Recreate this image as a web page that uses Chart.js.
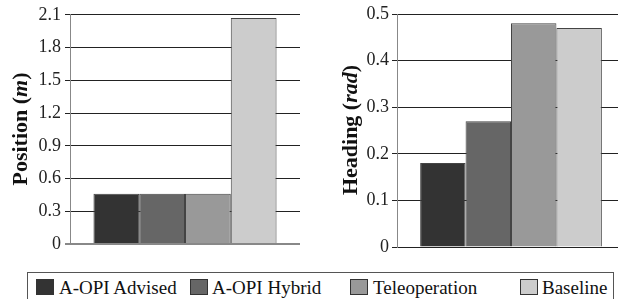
<!DOCTYPE html>
<html lang="en">
<head>
<meta charset="UTF-8" />
<title>Position and heading error</title>
<script src="https://cdn.jsdelivr.net/npm/chart.js"></script>
<style>
  html, body { margin: 0; padding: 0; background: #fff; overflow: hidden; width: 618px; height: 299px; }
  canvas { position: absolute; top: 0; }
  #posChart { left: 0; }
  #headChart { left: 310px; }
  #legendBox { position: absolute; left: 27px; top: 272px; width: 587px; height: 40px; border: 1px solid #555; box-sizing: border-box; }
  .sw { position: absolute; top: 279px; width: 18px; height: 16px; border: 1px solid #333; box-sizing: border-box; }
  .lbl { position: absolute; top: 278px; font: 19px/1 "Liberation Serif", serif; color: #111; white-space: nowrap; }
</style>
</head>
<body>
  <canvas id="posChart" width="310" height="265"></canvas>
  <canvas id="headChart" width="318" height="265"></canvas>
  <div id="legendBox"></div>

<script>
const methods = ['A-OPI Advised', 'A-OPI Hybrid', 'Teleoperation', 'Baseline'];
const positionErr = [0.46, 0.46, 0.46, 2.07];
const headingErr = [0.18, 0.27, 0.48, 0.47];
const positionTicks = [0, 0.3, 0.6, 0.9, 1.2, 1.5, 1.8, 2.1];
const headingTicks = [0, 0.1, 0.2, 0.3, 0.4, 0.5];

const fills = ['#333333', '#666666', '#999999', '#cccccc'];

// rotated axis title with an italic unit
function sideTitle(o) {
  return {
    id: 'sideTitle',
    afterDraw(chart) {
      const ctx = chart.ctx;
      ctx.save();
      ctx.translate(o.x, o.y);
      ctx.rotate(-Math.PI / 2);
      ctx.fillStyle = '#111';
      ctx.textAlign = 'left';
      ctx.textBaseline = 'alphabetic';
      const fonts = o.parts.map(p => (p[1] ? 'italic ' : '') + 'bold 22px "Liberation Serif"');
      const widths = o.parts.map((p, i) => { ctx.font = fonts[i]; return ctx.measureText(p[0]).width; });
      let x = -widths.reduce((a, b) => a + b, 0) / 2;
      o.parts.forEach((p, i) => {
        ctx.font = fonts[i];
        ctx.fillText(p[0], x, 0);
        x += widths[i];
      });
      ctx.restore();
    }
  };
}

function makeChart(id, values, ticks, cfg) {
  return new Chart(document.getElementById(id), {
    type: 'bar',
    data: {
      labels: [''],
      datasets: methods.map((m, i) => ({
        label: m,
        data: [values[i]],
        backgroundColor: fills[i],
        borderColor: '#444',
        borderWidth: 1,
        categoryPercentage: cfg.catPct,
        barPercentage: 1
      }))
    },
    options: {
      responsive: false,
      animation: false,
      layout: { padding: cfg.padding },
      plugins: { legend: { display: false }, tooltip: { enabled: false } },
      scales: {
        x: { display: false },
        y: {
          min: 0,
          max: ticks[ticks.length - 1],
          afterFit: s => { s.width = cfg.axisWidth; },
          afterBuildTicks: s => { s.ticks = ticks.map(v => ({ value: v })); },
          ticks: {
            color: '#222',
            padding: cfg.tickPad,
            font: { family: '"Liberation Serif", serif', size: 18 },
            callback: v => String(v)
          },
          grid: {
            color: c => (c.index === 0 ? cfg.zeroColor : '#222'),
            lineWidth: c => (c.index === 0 ? cfg.zeroWidth : 1),
            tickLength: 5
          },
          border: { color: '#888', width: 1 }
        }
      }
    },
    plugins: [sideTitle(cfg.title)]
  });
}

makeChart('posChart', positionErr, positionTicks, {
  catPct: 0.796,
  padding: { top: 13, bottom: 21, left: 0, right: 10 },
  axisWidth: 70,
  tickPad: 4,
  zeroColor: '#888',
  zeroWidth: 2,
  title: { x: 27, y: 129, parts: [['Position (', false], ['m', true], [')', false]] }
});

makeChart('headChart', headingErr, headingTicks, {
  catPct: 0.797,
  padding: { top: 14, bottom: 18, left: 0, right: 3 },
  axisWidth: 87,
  tickPad: 3,
  zeroColor: '#222',
  zeroWidth: 1,
  title: { x: 47, y: 130, parts: [['Heading (', false], ['rad', true], [')', false]] }
});

// legend under both charts
const swLeft = [36, 190, 350, 520];
const txtLeft = [59, 212, 373, 542];
methods.forEach((m, i) => {
  const sw = document.createElement('div');
  sw.className = 'sw';
  sw.style.left = swLeft[i] + 'px';
  sw.style.background = fills[i];
  document.body.appendChild(sw);
  const t = document.createElement('div');
  t.className = 'lbl';
  t.style.left = txtLeft[i] + 'px';
  t.textContent = m;
  document.body.appendChild(t);
});
</script>
</body>
</html>
